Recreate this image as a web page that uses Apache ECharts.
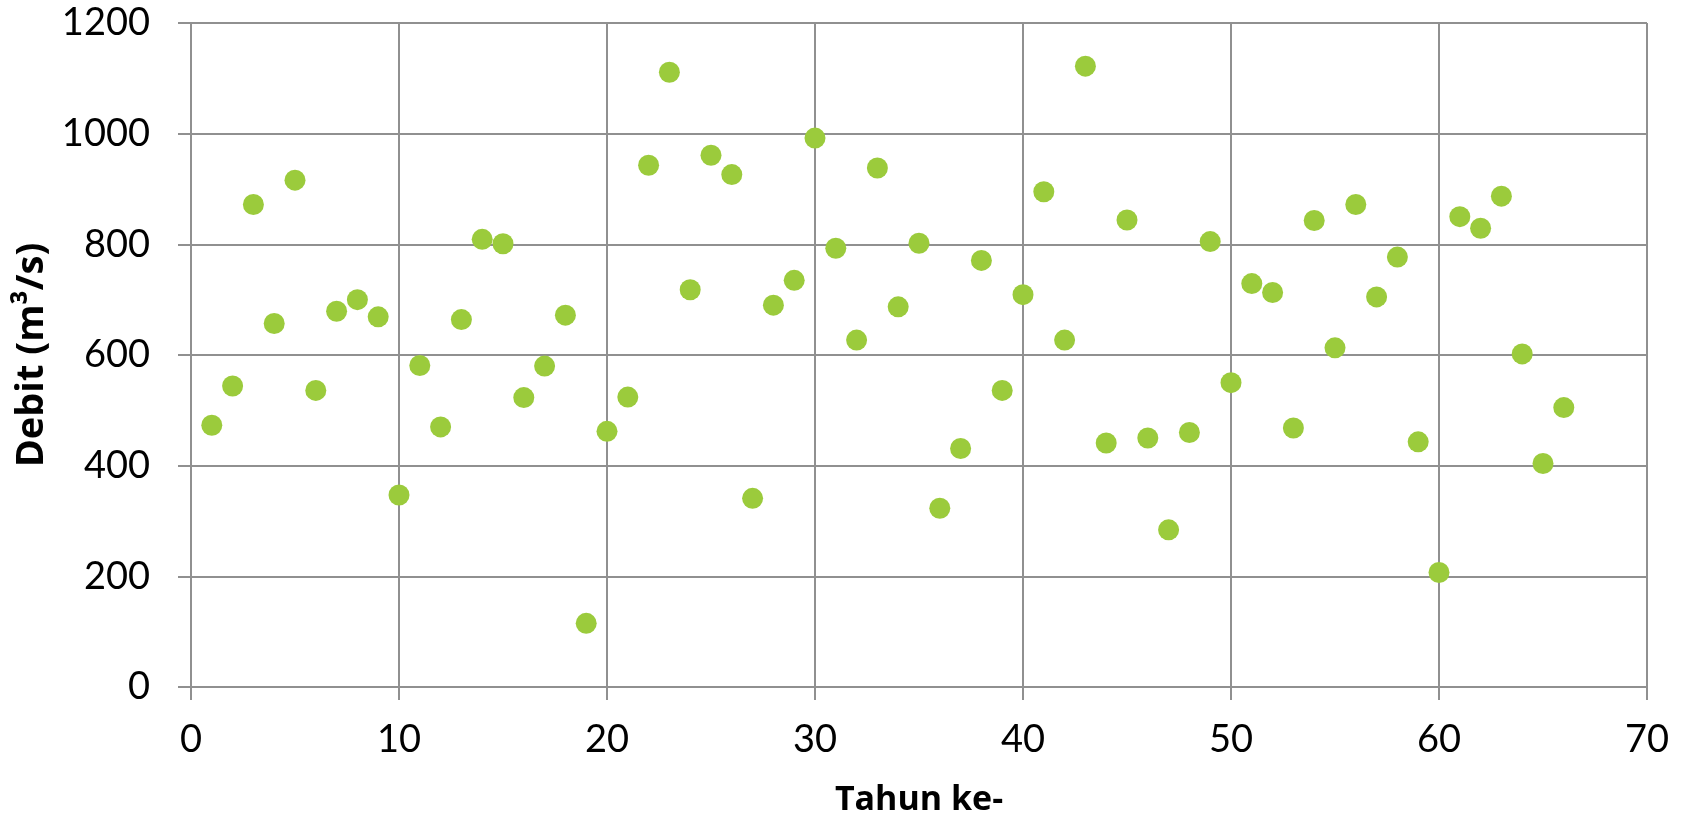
<!DOCTYPE html>
<html>
<head>
<meta charset="utf-8">
<script src="https://cdn.jsdelivr.net/npm/echarts@6/dist/echarts.min.js"></script>
<style>
html,body{margin:0;padding:0;background:#fff;}
#chart{width:1688px;height:822px;}
</style>
</head>
<body>
<div id="chart"></div>
<script>
var tahun = [1,2,3,4,5,6,7,8,9,10,11,12,13,14,15,16,17,18,19,20,21,22,23,24,25,26,27,28,29,30,31,32,33,34,35,36,37,38,39,40,41,42,43,44,45,46,47,48,49,50,51,52,53,54,55,56,57,58,59,60,61,62,63,64,65,66];
var debit = [473,544,872,657,916,536,679,700,669,347,581,470,664,809,801,523,580,672,115,462,524,943,1111,718,961,926,341,690,735,992,793,627,938,687,802,323,431,771,536,709,895,627,1122,441,844,450,284,460,805,550,729,713,468,843,613,872,705,777,443,207,850,829,887,602,404,505];
var xTicks = {min:0, max:70, interval:10};
var yTicks = {min:0, max:1200, interval:200};

var points = tahun.map(function(t,i){ return [t, debit[i]]; });
var gridColor = '#909090';
var chart = echarts.init(document.getElementById('chart'));
chart.setOption({
  animation:false,
  backgroundColor:'#ffffff',
  grid:{left:191, right:41, top:23, bottom:135, containLabel:false},
  xAxis:{
    type:'value', min:xTicks.min, max:xTicks.max, interval:xTicks.interval,
    name:'Tahun ke-', nameLocation:'middle', nameGap:96,
    nameTextStyle:{fontFamily:'Open Sans', fontWeight:'bold', fontSize:34, color:'#000'},
    axisLine:{show:true, lineStyle:{color:gridColor, width:2}},
    axisTick:{show:true, length:13, inside:false, lineStyle:{color:gridColor, width:2}},
    axisLabel:{fontFamily:'Lato', fontSize:38, color:'#000', margin:34,
      formatter:function(v){ return String(v); }},
    splitLine:{show:true, lineStyle:{color:gridColor, width:2}}
  },
  yAxis:{
    type:'value', min:yTicks.min, max:yTicks.max, interval:yTicks.interval,
    name:'Debit (m³/s)', nameLocation:'middle', nameGap:140,
    nameTextStyle:{fontFamily:'Open Sans', fontWeight:'bold', fontSize:38, color:'#000'},
    axisLine:{show:true, lineStyle:{color:gridColor, width:2}},
    axisTick:{show:true, length:13, inside:false, lineStyle:{color:gridColor, width:2}},
    axisLabel:{fontFamily:'Lato', fontSize:38, color:'#000', margin:41,
      formatter:function(v){ return String(v); }},
    splitLine:{show:true, lineStyle:{color:gridColor, width:2}}
  },
  series:[{
    type:'scatter', data:points, symbol:'circle', symbolSize:21,
    itemStyle:{color:'#9BCB3C', opacity:1}
  }]
});
</script>
</body>
</html>
